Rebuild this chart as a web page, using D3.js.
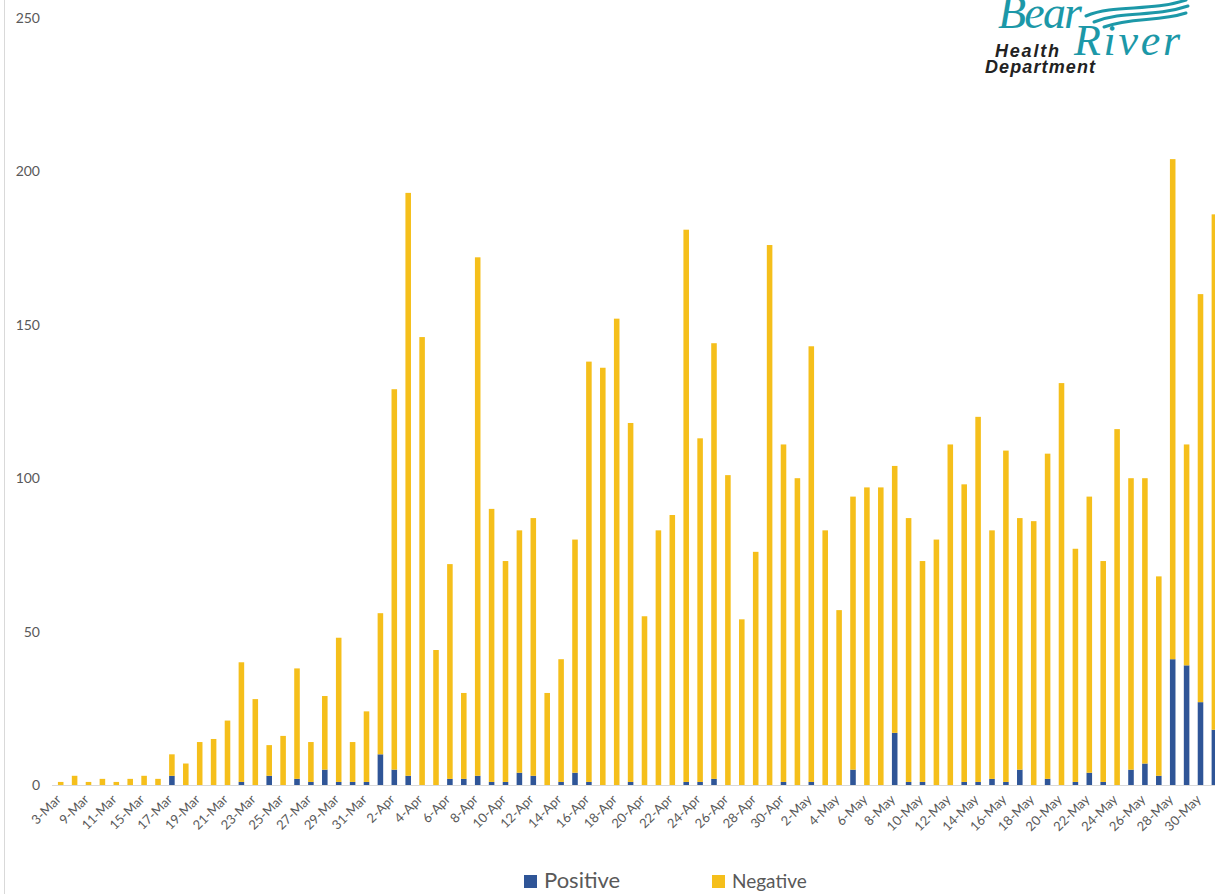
<!DOCTYPE html>
<html>
<head>
<meta charset="utf-8">
<script src="https://cdn.jsdelivr.net/npm/d3@7"></script>
<style>
  html, body { margin: 0; padding: 0; background: #fff; overflow: hidden; }
  svg { display: block; font-family: Lato, "Open Sans", sans-serif; }
</style>
</head>
<body>
<div id="chart"></div>
<script>
// Daily tests, Bear River Health Department
const dates = [
  "3-Mar","6-Mar","9-Mar","10-Mar","11-Mar","13-Mar","15-Mar","16-Mar",
  "17-Mar","18-Mar","19-Mar","20-Mar","21-Mar","22-Mar","23-Mar","24-Mar","25-Mar","26-Mar","27-Mar","28-Mar","29-Mar","30-Mar","31-Mar",
  "1-Apr","2-Apr","3-Apr","4-Apr","5-Apr","6-Apr","7-Apr","8-Apr","9-Apr","10-Apr","11-Apr","12-Apr","13-Apr","14-Apr","15-Apr",
  "16-Apr","17-Apr","18-Apr","19-Apr","20-Apr","21-Apr","22-Apr","23-Apr","24-Apr","25-Apr","26-Apr","27-Apr","28-Apr","29-Apr","30-Apr",
  "1-May","2-May","3-May","4-May","5-May","6-May","7-May","8-May","9-May","10-May","11-May","12-May","13-May","14-May","15-May","16-May",
  "17-May","18-May","19-May","20-May","21-May","22-May","23-May","24-May","25-May","26-May","27-May","28-May","29-May","30-May","31-May"
];

const positive = [
  0,0,0,0,0,0,0,0,
  3,0,0,0,0,1,0,3,0,2,1,5,1,1,1,
  10,5,3,0,0,2,2,3,1,1,4,3,0,1,4,1,0,0,1,0,0,0,1,1,2,0,0,0,0,1,
  0,1,0,0,5,0,0,17,1,1,0,0,1,1,2,1,5,0,2,0,1,4,1,0,5,7,3,41,39,27,18
];

const negative = [
  1,3,1,2,1,2,3,2,
  7,7,14,15,21,39,28,10,16,36,13,24,47,13,23,
  46,124,190,146,44,70,28,169,89,72,79,84,30,40,76,137,136,152,117,55,83,88,180,112,142,101,54,76,176,110,
  100,142,83,57,89,97,97,87,86,72,80,111,97,119,81,108,82,86,106,131,76,90,72,116,95,93,65,163,72,133,168
];

const yTicks = [0, 50, 100, 150, 200, 250];
const seriesNames = ["Positive", "Negative"];
const colors = { Positive: "#2f5597", Negative: "#f5bf1b" };

const width = 1215, height = 894;

const svg = d3.select("#chart").append("svg")
  .attr("width", width)
  .attr("height", height);

// faint frame line on the left
svg.append("line")
  .attr("x1", 4.5).attr("x2", 4.5)
  .attr("y1", 0).attr("y2", height)
  .attr("stroke", "#d9d9d9");

const rows = dates.map((d, i) => ({ date: d, Positive: positive[i], Negative: negative[i] }));

const x = d3.scaleBand()
  .domain(dates)
  .range([53.75, 53.75 + 13.9 * dates.length])
  .paddingInner(0.6)
  .paddingOuter(0.3);

const y = d3.scaleLinear()
  .domain([0, 250])
  .range([785, 18]);

// y axis labels only, no gridlines
const yAxis = d3.axisLeft(y).tickValues(yTicks).tickSize(0).tickPadding(0);
svg.append("g")
  .attr("transform", "translate(40,0)")
  .call(yAxis)
  .call(g => g.select(".domain").remove())
  .call(g => g.selectAll("text")
    .attr("fill", "#595959")
    .style("font-size", "14px")
    .style("font-family", "Lato, sans-serif"));

// stacked bars
const stack = d3.stack().keys(seriesNames);
const layers = stack(rows);

svg.append("g")
  .selectAll("g")
  .data(layers)
  .join("g")
  .attr("fill", d => colors[d.key])
  .selectAll("rect")
  .data(d => d)
  .join("rect")
  .attr("x", d => x(d.data.date))
  .attr("width", x.bandwidth())
  .attr("y", d => y(d[1]))
  .attr("height", d => y(d[0]) - y(d[1]));

// category axis, every other date labelled
const xAxis = d3.axisBottom(x)
  .tickValues(dates.filter((d, i) => i % 2 === 0))
  .tickSize(0)
  .tickPadding(0);

const xg = svg.append("g")
  .attr("transform", "translate(0," + y(0) + ")")
  .call(xAxis);

xg.select(".domain")
  .attr("d", "M52,0.5H" + width)
  .attr("stroke", "#d9d9d9");

xg.selectAll("text")
  .attr("fill", "#595959")
  .style("font-size", "13px")
  .style("font-family", "Lato, sans-serif")
  .attr("text-anchor", "end")
  .attr("y", 0)
  .attr("dy", "0.35em")
  .attr("transform", "translate(-2,12) rotate(-45)");

// legend
const legend = svg.append("g");
const legendItems = [
  { key: "Positive", x: 524, size: 22 },
  { key: "Negative", x: 712, size: 19 }
];
legendItems.forEach(item => {
  legend.append("rect")
    .attr("x", item.x).attr("y", 875)
    .attr("width", 13).attr("height", 13)
    .attr("fill", colors[item.key]);
  legend.append("text")
    .attr("x", item.x + 20).attr("y", 888)
    .attr("fill", "#595959")
    .style("font-size", item.size + "px")
    .text(item.key);
});

// logo in the top right corner
const logo = svg.append("g");
const teal = "#1c98a8";
const waves = [
  "M1086,16 C1115,4 1150,12 1186,0",
  "M1094,22 C1125,10 1152,18 1188,6",
  "M1104,27 C1132,17 1158,22 1186,13"
];
logo.selectAll("path")
  .data(waves)
  .join("path")
  .attr("d", d => d)
  .attr("fill", "none")
  .attr("stroke", teal)
  .attr("stroke-width", 3)
  .attr("stroke-linecap", "round");

logo.append("text")
  .attr("x", 998).attr("y", 28)
  .attr("fill", teal)
  .style("font-family", "'Liberation Serif', serif")
  .style("font-style", "italic")
  .style("font-size", "46px")
  .attr("textLength", 84)
  .text("Bear");
logo.append("text")
  .attr("x", 1074).attr("y", 55)
  .attr("fill", teal)
  .style("font-family", "'Liberation Serif', serif")
  .style("font-style", "italic")
  .style("font-size", "44px")
  .attr("textLength", 106)
  .text("River");
logo.append("text")
  .attr("x", 995).attr("y", 57)
  .attr("fill", "#222")
  .style("font-family", "'Liberation Sans Narrow', 'Liberation Sans', sans-serif")
  .style("font-style", "italic")
  .style("font-weight", "bold")
  .style("font-size", "18px")
  .attr("textLength", 64)
  .text("Health");
logo.append("text")
  .attr("x", 985).attr("y", 73)
  .attr("fill", "#222")
  .style("font-family", "'Liberation Sans Narrow', 'Liberation Sans', sans-serif")
  .style("font-style", "italic")
  .style("font-weight", "bold")
  .style("font-size", "18px")
  .attr("textLength", 110)
  .text("Department");
</script>
</body>
</html>
